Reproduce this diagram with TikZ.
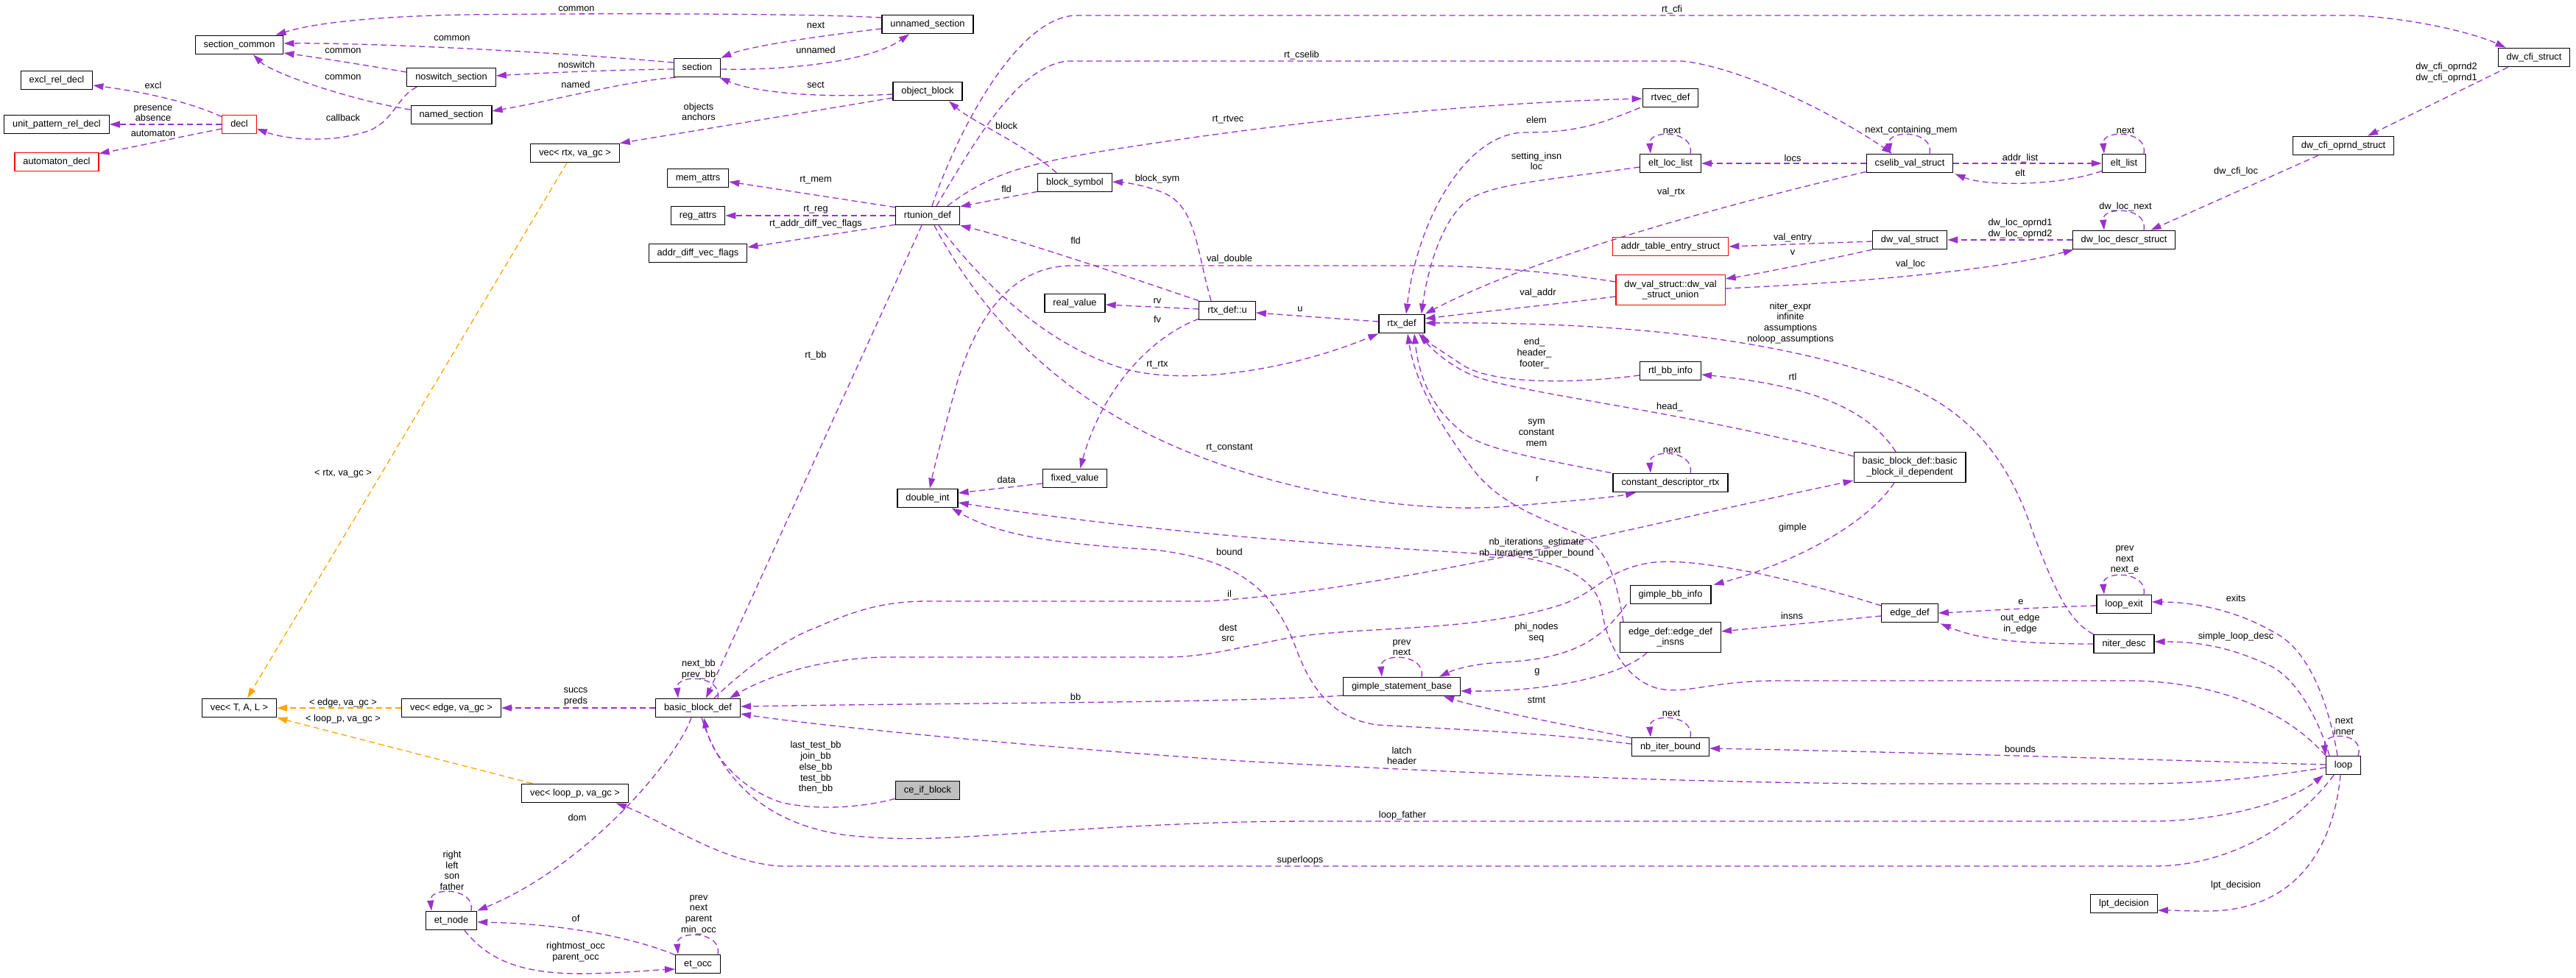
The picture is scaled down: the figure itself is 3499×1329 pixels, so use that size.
\documentclass[tikz,border=0pt]{standalone}
\usepackage{fontspec}
\setmainfont{Liberation Sans}
\usetikzlibrary{arrows.meta,calc}
\definecolor{edgep}{HTML}{9A32CD}
\definecolor{edgeo}{HTML}{FFA500}
\definecolor{nodegray}{HTML}{BFBFBF}
\newcommand\lbl{\fontsize{12.8}{14.7}\selectfont}
\tikzset{
 box/.style={draw=black, line width=1.2pt, fill=white, inner xsep=11.5pt, inner ysep=0pt, minimum height=25.5pt, text height=9.4pt, text depth=2.9pt, font=\lbl},
 boxtwo/.style={draw=black, line width=1.2pt, fill=white, inner xsep=11.5pt, inner ysep=0pt, minimum height=41pt, align=center, font=\lbl},
 redbox/.style={box, draw=red},
 redboxtwo/.style={boxtwo, draw=red},
 pe/.style={draw=edgep, line width=1.3pt, dash pattern=on 8pt off 5pt, -{Triangle[length=14pt,width=9pt]}},
 oe/.style={pe, draw=edgeo},
 lab/.style={inner sep=0pt, align=center, font=\lbl},
}
\newcommand\selfloop[1]{\draw[pe] ($(#1.north)+(27,0)$) .. controls ($(#1.north)+(33,-32)$) and ($(#1.north)+(-30,-33)$) .. ($(#1.north)+(-27,0)$);}
\begin{document}
\begin{tikzpicture}[x=1pt,y=-1pt]
\fill[white] (0,0) rectangle (3499,1329);
\useasboundingbox (0,0) rectangle (3499,1329);
% nodes
\node[box] (sc) at (325,61) {section\_common};
\node[box] (us) at (1260,33) {unnamed\_section};
\node[box] (erd) at (77,109) {excl\_rel\_decl};
\node[box] (uprd) at (77,169) {unit\_pattern\_rel\_decl};
\node[redbox] (ad) at (77,220) {automaton\_decl};
\node[redbox] (decl) at (325,169) {decl};
\node[box] (nss) at (613,105) {noswitch\_section};
\node[box] (ns) at (613,156) {named\_section};
\node[box] (sec) at (947,92) {section};
\node[box] (ob) at (1260,124) {object\_block};
\node[box] (vrtx) at (781,208) {vec< rtx, va\_gc >};
\node[box] (ma) at (948,242) {mem\_attrs};
\node[box] (ra) at (948,293) {reg\_attrs};
\node[box] (advf) at (948,344) {addr\_diff\_vec\_flags};
\node[box] (rtu) at (1260,293) {rtunion\_def};
\node[box] (bs) at (1460,248) {block\_symbol};
\node[box] (rv) at (1460,412) {real\_value};
\node[box] (u) at (1667,422) {rtx\_def::u};
\node[box] (rtvec) at (2269,133) {rtvec\_def};
\node[box] (ell) at (2269,222) {elt\_loc\_list};
\node[box] (cvs) at (2594,222) {cselib\_val\_struct};
\node[box] (el) at (2885,222) {elt\_list};
\node[redbox] (ates) at (2269,335) {addr\_table\_entry\_struct};
\node[redboxtwo] (dvsu) at (2269,394) {dw\_val\_struct::dw\_val\\\_struct\_union};
\node[box] (rtx) at (1904,440) {rtx\_def};
\node[box] (dvs) at (2594,326) {dw\_val\_struct};
\node[box] (dlds) at (2885,326) {dw\_loc\_descr\_struct};
\node[box] (dcos) at (3183,198) {dw\_cfi\_oprnd\_struct};
\node[box] (dcs) at (3442,78) {dw\_cfi\_struct};
\node[box] (di) at (1260,677) {double\_int};
\node[box] (fv) at (1460,650) {fixed\_value};
\node[box] (rbi) at (2269,504) {rtl\_bb\_info};
\node[box] (cdr) at (2269,656) {constant\_descriptor\_rtx};
\node[boxtwo] (bbil) at (2594,635) {basic\_block\_def::basic\\\_block\_il\_dependent};
\node[box] (gbi) at (2269,808) {gimple\_bb\_info};
\node[boxtwo] (edi) at (2269,866) {edge\_def::edge\_def\\\_insns};
\node[box] (ed) at (2594,833) {edge\_def};
\node[box] (le) at (2885,821) {loop\_exit};
\node[box] (nd) at (2885,875) {niter\_desc};
\node[box] (vtal) at (325,962) {vec< T, A, L >};
\node[box] (vedge) at (613,962) {vec< edge, va\_gc >};
\node[box] (vloop) at (781,1078) {vec< loop\_p, va\_gc >};
\node[box] (etn) at (613,1251) {et\_node};
\node[box] (bbd) at (948,962) {basic\_block\_def};
\node[box, fill=nodegray] (ceif) at (1260,1074) {ce\_if\_block};
\node[box] (eto) at (948,1310) {et\_occ};
\node[box] (gsb) at (1904,933) {gimple\_statement\_base};
\node[box] (nib) at (2269,1015) {nb\_iter\_bound};
\node[box] (lp) at (3183,1040) {loop};
\node[box] (lpt) at (2885,1228) {lpt\_decision};
% edges
\draw[pe] ($(us.west)+(0,-9)$) .. controls (1100,18) and (800,18) .. (631,20) .. controls (520,22) and (430,30) .. ($(sc.north east)+(-11,0)$);
\draw[pe] ($(sec.west)+(0,-7)$) .. controls (750,70) and (500,58) .. ($(sc.east)+(0,-2)$);
\draw[pe] ($(nss.west)+(0,-7)$) .. controls (480,86) and (430,78) .. ($(sc.east)+(0,11)$);
\draw[pe] ($(ns.west)+(0,-7)$) .. controls (480,137) and (370,100) .. ($(sc.south)+(19,0)$);
\draw[pe] ($(sec.west)+(0,2)$) .. controls (820,95) and (720,100) .. ($(nss.east)+(0,-2)$);
\draw[pe] ($(sec.south west)+(3,0)$) .. controls (850,110) and (760,135) .. ($(ns.east)+(0,-5)$);
\draw[pe] ($(nss.south west)+(14,0)$) .. controls (540,130) and (535,165) .. (500,178) .. controls (450,195) and (390,190) .. ($(decl.east)+(0,6)$);
\draw[pe] ($(decl.north west)+(0,3)$) .. controls (250,135) and (180,123) .. ($(erd.east)+(0,7)$);
\draw[pe] (decl.west) -- (uprd.east);
\draw[pe] ($(decl.west)+(0,6)$) .. controls (250,185) and (180,200) .. ($(ad.north east)+(0,2)$);
\draw[pe] ($(us.west)+(0,6)$) .. controls (1120,48) and (1020,62) .. (sec.north east);
\draw[pe] ($(sec.east)+(0,2)$) .. controls (1060,96) and (1180,85) .. ($(us.south)+(-25,0)$);
\draw[pe] ($(ob.west)+(0,4)$) .. controls (1130,133) and (1030,128) .. ($(sec.south east)+(-2,0)$);
\draw[pe] ($(ob.west)+(0,9)$) -- (vrtx.north east);
\draw[oe] ($(vrtx.south)+(-11,0)$) -- ($(vtal.north)+(11,0)$);
\draw[pe] ($(bs.north)+(-25,0)$) .. controls (1390,195) and (1320,165) .. ($(ob.south)+(29,0)$);
\draw[pe] ($(rtu.north west)+(0,2)$) -- ($(ma.east)+(0,5)$);
\draw[pe] (rtu.west) -- (ra.east);
\draw[pe] ($(rtu.south west)+(0,-1)$) -- ($(advf.east)+(0,-8)$);
\draw[pe] ($(bs.south west)+(0,-1)$) -- ($(rtu.north east)+(0,1)$);
\draw[pe] (u.north west) .. controls (1500,365) and (1380,325) .. (rtu.south east);
\draw[pe] ($(u.north)+(-22,0)$) .. controls (1625,340) and (1625,280) .. (1580,262) .. controls (1560,253) and (1530,248) .. ($(bs.east)+(0,-1)$);
\draw[pe] ($(u.west)+(0,-2)$) -- ($(rv.east)+(0,2)$);
\draw[pe] ($(u.south west)+(0,-2)$) .. controls (1570,455) and (1500,520) .. ($(fv.north)+(7,0)$);
\draw[pe] ($(rtx.west)+(0,-3)$) -- ($(u.east)+(0,3)$);
\draw[pe] ($(rtu.south)+(15,0)$) .. controls (1330,380) and (1420,470) .. (1530,502) .. controls (1620,525) and (1760,500) .. (rtx.south west);
\draw[pe] ($(rtu.south)+(-8,0)$) -- ($(bbd.north)+(11,0)$);
\draw[pe] ($(rtu.north east)+(-17,0)$) .. controls (1340,240) and (1380,225) .. (1500,205) .. controls (1750,165) and (2000,140) .. ($(rtvec.west)+(0,1)$);
\draw[pe] ($(rtu.north)+(12,0)$) .. controls (1320,200) and (1380,90) .. (1450,83) -- (2285,83) .. controls (2370,92) and (2500,160) .. ($(cvs.north)+(-24,0)$);
\draw[pe] ($(rtu.north)+(6,0)$) .. controls (1300,180) and (1380,25) .. (1460,21) -- (3197,21) .. controls (3280,25) and (3360,45) .. ($(dcs.north west)+(11,0)$);
\draw[pe] ($(rtvec.south west)+(-3,0)$) .. controls (2170,170) and (2140,180) .. (2070,180) .. controls (1990,182) and (1925,300) .. ($(rtx.north)+(6,0)$);
\draw[pe] ($(ell.west)+(0,5)$) .. controls (2100,245) and (2020,250) .. (1990,275) .. controls (1960,300) and (1940,360) .. ($(rtx.north east)+(-5,0)$);
\draw[pe] ($(cvs.south west)+(0,-2)$) .. controls (2400,265) and (2100,340) .. (rtx.north east);
\selfloop{ell}
\draw[pe] (cvs.west) -- (ell.east);
\selfloop{cvs}
\draw[pe] (cvs.east) -- (el.west);
\draw[pe] ($(el.south west)+(0,-3)$) .. controls (2800,252) and (2700,254) .. ($(cvs.south east)+(2,1)$);
\selfloop{el}
\draw[pe] ($(dvs.west)+(0,2)$) -- (ates.east);
\draw[pe] (dvs.south west) .. controls (2470,355) and (2400,370) .. ($(dvsu.north east)+(0,6)$);
\draw[pe] ($(dvsu.east)+(0,-2)$) .. controls (2500,385) and (2700,370) .. ($(dlds.south west)+(2,0)$);
\draw[pe] (dlds.west) -- (dvs.east);
\selfloop{dlds}
\draw[pe] ($(dcos.south west)+(35,0)$) -- ($(dlds.north east)+(-34,0)$);
\draw[pe] ($(dcs.south west)+(14,0)$) -- ($(dcos.north)+(33,0)$);
\draw[pe] ($(dvsu.west)+(0,-11)$) .. controls (2100,368) and (2000,361) .. (1930,361) -- (1453,361) .. controls (1380,363) and (1330,420) .. (1300,520) .. controls (1282,585) and (1270,630) .. ($(di.north)+(3,0)$);
\draw[pe] ($(dvsu.west)+(0,9)$) .. controls (2100,415) and (2000,425) .. ($(rtx.east)+(0,-7)$);
\draw[pe] (nd.north west) .. controls (2810,845) and (2790,800) .. (2760,720) .. controls (2720,600) and (2650,540) .. (2550,510) .. controls (2400,460) and (2200,437) .. ($(rtx.east)+(0,-1)$);
\draw[pe] ($(rbi.west)+(0,6)$) .. controls (2150,520) and (2030,525) .. (1985,495) .. controls (1955,475) and (1935,462) .. ($(rtx.south)+(23,0)$);
\draw[pe] ($(bbil.west)+(0,-15)$) .. controls (2300,560) and (2060,535) .. (2000,510) .. controls (1965,495) and (1940,470) .. ($(rtx.south east)+(-4,0)$);
\draw[pe] ($(cdr.north west)+(-2,0)$) .. controls (2100,625) and (2020,612) .. (1990,590) .. controls (1950,560) and (1928,520) .. ($(rtx.south)+(17,0)$);
\draw[pe] ($(edi.north west)+(5,0)$) .. controls (2197,795) and (2185,745) .. (2148,727) .. controls (2080,700) and (2030,680) .. (1995,630) .. controls (1955,575) and (1922,520) .. ($(rtx.south)+(8,0)$);
\draw[pe] ($(rtu.south)+(9,0)$) .. controls (1330,420) and (1420,520) .. (1560,590) .. controls (1700,660) and (1900,700) .. (2050,688) .. controls (2130,681) and (2190,676) .. ($(cdr.south)+(-47,0)$);
\selfloop{cdr}
\draw[pe] ($(fv.west)+(0,7)$) -- ($(di.east)+(0,-7)$);
\draw[pe] ($(bbil.north)+(-19,0)$) .. controls (2540,560) and (2470,525) .. ($(rbi.east)+(0,5)$);
\draw[pe] ($(bbil.south)+(-21,0)$) .. controls (2530,720) and (2420,770) .. ($(gbi.north east)+(3,0)$);
\draw[pe] ($(bbd.north)+(22,0)$) .. controls (1000,920) and (1060,870) .. (1108,853) .. controls (1160,830) and (1200,817) .. (1260,817) -- (1640,817) .. controls (1900,800) and (2200,720) .. ($(bbil.south west)+(0,-3)$);
\draw[pe] ($(ed.west)+(0,-10)$) .. controls (2450,790) and (2300,755) .. (2240,765) .. controls (2180,775) and (2170,805) .. (2120,822) .. controls (2000,860) and (1850,850) .. (1750,867) .. controls (1680,880) and (1640,893) .. (1580,893) -- (1200,893) .. controls (1120,895) and (1050,915) .. ($(bbd.north east)+(-15,0)$);
\draw[pe] ($(gsb.west)+(0,12)$) .. controls (1700,955) and (1300,955) .. ($(bbd.east)+(0,-2)$);
\draw[pe] ($(lp.west)+(0,3)$) .. controls (3050,1060) and (2980,1065) .. (2900,1065) -- (2550,1065) .. controls (2200,1062) and (1900,1045) .. (1700,1035) .. controls (1400,1015) and (1100,985) .. ($(bbd.east)+(0,8)$);
\draw[pe] ($(ceif.south west)+(0,-2)$) .. controls (1160,1100) and (1100,1100) .. (1060,1090) .. controls (1000,1070) and (965,1020) .. ($(bbd.south)+(8,0)$);
\draw[pe] ($(bbd.south)+(5,0)$) .. controls (980,1060) and (1040,1120) .. (1150,1135) .. controls (1250,1145) and (1300,1137) .. (1500,1125) .. controls (1650,1117) and (1700,1116) .. (1800,1116) -- (2925,1116) .. controls (3020,1115) and (3110,1090) .. ($(lp.south west)+(-3,0)$);
\draw[pe] ($(lp.south)+(-13,0)$) .. controls (3120,1120) and (3030,1177) .. (2925,1177) -- (1060,1177) .. controls (980,1172) and (900,1115) .. ($(vloop.south east)+(-17,0)$);
\draw[pe] ($(lp.south)+(-4,0)$) .. controls (3170,1150) and (3120,1237) .. (3000,1238) .. controls (2970,1238) and (2950,1237) .. ($(lpt.east)+(0,9)$);
\draw[pe] ($(lp.west)+(0,-1)$) .. controls (2900,1032) and (2600,1022) .. ($(nib.east)+(0,2)$);
\draw[pe] ($(lp.north)+(20,0)$) .. controls ($(lp.north)+(30,-32)$) and ($(lp.north)+(-28,-33)$) .. ($(lp.north)+(-24,0)$);
\draw[pe] ($(lp.north)+(-19,0)$) .. controls (3150,980) and (3120,920) .. (3080,903) .. controls (3040,885) and (3000,872) .. ($(nd.east)+(0,-3)$);
\draw[pe] ($(lp.north)+(-8,0)$) .. controls (3160,940) and (3130,880) .. (3090,860) .. controls (3040,830) and (2980,818) .. ($(le.east)+(0,-3)$);
\draw[pe] (lp.north west) .. controls (3100,960) and (3000,925) .. (2889,925) -- (2417,925) .. controls (2320,925) and (2290,945) .. (2250,935) .. controls (2200,920) and (2180,860) .. (2176,830) .. controls (2170,790) and (2130,765) .. (2050,755) .. controls (1900,745) and (1600,730) .. ($(di.east)+(0,6)$);
\draw[pe] ($(nib.west)+(0,-4)$) .. controls (2100,995) and (1950,990) .. (1870,985) .. controls (1800,975) and (1775,920) .. (1760,880) .. controls (1730,800) and (1680,760) .. (1567,747) .. controls (1450,740) and (1360,730) .. ($(di.south east)+(-9,0)$);
\draw[pe] ($(nib.north west)+(0,1)$) .. controls (2100,980) and (2010,962) .. ($(gsb.south)+(57,0)$);
\draw[pe] ($(edi.south)+(-32,0)$) .. controls (2200,920) and (2100,940) .. ($(gsb.east)+(0,6)$);
\draw[pe] ($(gbi.south west)+(-4,0)$) .. controls (2180,860) and (2150,895) .. (2040,900) .. controls (2000,902) and (1975,910) .. ($(gsb.north)+(51,0)$);
\selfloop{gsb}
\selfloop{nib}
\draw[pe] ($(ed.west)+(0,4)$) -- ($(edi.east)+(0,-8)$);
\draw[pe] ($(le.west)+(0,2)$) .. controls (2750,826) and (2700,830) .. (ed.east);
\draw[pe] (nd.west) .. controls (2750,875) and (2690,870) .. ($(ed.south east)+(3,1)$);
\selfloop{le}
\selfloop{bbd}
\draw[pe] (bbd.west) -- (vedge.east);
\draw[oe] (vedge.west) -- (vtal.east);
\draw[oe] ($(vloop.north west)+(15,0)$) -- (vtal.south east);
\draw[pe] ($(bbd.south)+(-9,0)$) .. controls (920,1030) and (800,1175) .. (etn.north east);
\selfloop{etn}
\draw[pe] ($(eto.north west)+(0,1)$) .. controls (850,1270) and (750,1255) .. ($(etn.east)+(0,2)$);
\draw[pe] ($(etn.south)+(18,0)$) .. controls (660,1300) and (700,1325) .. (800,1323) .. controls (850,1322) and (890,1318) .. ($(eto.west)+(0,7)$);
\selfloop{eto}
% labels
\node[lab] (l1) at (783,12) {common};
\node[lab] (l2) at (614,52) {common};
\node[lab] (l3) at (466,69) {common};
\node[lab] (l4) at (466,105) {common};
\node[lab] (l5) at (783,88) {noswitch};
\node[lab] (l6) at (782,115) {named};
\node[lab] (l7) at (466,160) {callback};
\node[lab] (l8) at (208,116) {excl};
\node[lab] (l9) at (208,154) {presence\\absence};
\node[lab] (l10) at (208,181) {automaton};
\node[lab] (l11) at (1108,34) {next};
\node[lab] (l12) at (1108,68) {unnamed};
\node[lab] (l13) at (1108,115) {sect};
\node[lab] (l14) at (949,152) {objects\\anchors};
\node[lab] (l15) at (466,644) {< rtx, va\_gc >};
\node[lab] (l16) at (1367,171) {block};
\node[lab] (l17) at (1108,245) {rt\_mem};
\node[lab] (l18) at (1108,285) {rt\_reg};
\node[lab] (l19) at (1108,304) {rt\_addr\_diff\_vec\_flags};
\node[lab] (l20) at (1367,257) {fld};
\node[lab] (l21) at (1461,327) {fld};
\node[lab] (l22) at (1572,243) {block\_sym};
\node[lab] (l23) at (1572,409) {rv};
\node[lab] (l24) at (1572,434) {fv};
\node[lab] (l25) at (1766,420) {u};
\node[lab] (l26) at (1572,496) {rt\_rtx};
\node[lab] (l27) at (1108,483) {rt\_bb};
\node[lab] (l28) at (1668,163) {rt\_rtvec};
\node[lab] (l29) at (1768,75) {rt\_cselib};
\node[lab] (l30) at (2271,13) {rt\_cfi};
\node[lab] (l31) at (2087,163) {elem};
\node[lab] (l32) at (2087,219) {setting\_insn\\loc};
\node[lab] (l33) at (2270,261) {val\_rtx};
\node[lab] (l34) at (2271,177) {next};
\node[lab] (l35) at (2435,215) {locs};
\node[lab] (l36) at (2596,177) {next\_containing\_mem};
\node[lab] (l37) at (2744,215) {addr\_list};
\node[lab] (l38) at (2744,235) {elt};
\node[lab] (l39) at (2887,177) {next};
\node[lab] (l40) at (2435,323) {val\_entry};
\node[lab] (l41) at (2435,343) {v};
\node[lab] (l42) at (2595,359) {val\_loc};
\node[lab] (l43) at (2744,311) {dw\_loc\_oprnd1\\dw\_loc\_oprnd2};
\node[lab] (l44) at (2887,281) {dw\_loc\_next};
\node[lab] (l45) at (3037,233) {dw\_cfi\_loc};
\node[lab] (l46) at (3323,99) {dw\_cfi\_oprnd2\\dw\_cfi\_oprnd1};
\node[lab] (l47) at (1670,352) {val\_double};
\node[lab] (l48) at (2089,398) {val\_addr};
\node[lab] (l49) at (2432,439) {niter\_expr\\infinite\\assumptions\\noloop\_assumptions};
\node[lab] (l50) at (2084,480) {end\_\\header\_\\footer\_};
\node[lab] (l51) at (2268,553) {head\_};
\node[lab] (l52) at (2087,588) {sym\\constant\\mem};
\node[lab] (l53) at (2088,651) {r};
\node[lab] (l54) at (1670,609) {rt\_constant};
\node[lab] (l55) at (1367,652) {data};
\node[lab] (l56) at (2435,512) {rtl};
\node[lab] (l57) at (2435,717) {gimple};
\node[lab] (l58) at (1670,807) {il};
\node[lab] (l59) at (1668,860) {dest\\src};
\node[lab] (l60) at (1461,947) {bb};
\node[lab] (l61) at (1904,1027) {latch\\header};
\node[lab] (l62) at (1108,1043) {last\_test\_bb\\join\_bb\\else\_bb\\test\_bb\\then\_bb};
\node[lab] (l63) at (1905,1108) {loop\_father};
\node[lab] (l64) at (1766,1169) {superloops};
\node[lab] (l65) at (3037,1203) {lpt\_decision};
\node[lab] (l66) at (2744,1018) {bounds};
\node[lab] (l67) at (3184,987) {next\\inner};
\node[lab] (l68) at (3037,865) {simple\_loop\_desc};
\node[lab] (l69) at (3037,813) {exits};
\node[lab] (l70) at (2087,745) {nb\_iterations\_estimate\\nb\_iterations\_upper\_bound};
\node[lab] (l71) at (1670,750) {bound};
\node[lab] (l72) at (2087,951) {stmt};
\node[lab] (l73) at (2088,913) {g};
\node[lab] (l74) at (2087,860) {phi\_nodes\\seq};
\node[lab] (l75) at (1904,880) {prev\\next};
\node[lab] (l76) at (2270,969) {next};
\node[lab] (l77) at (2271,611) {next};
\node[lab] (l78) at (2434,837) {insns};
\node[lab] (l79) at (2745,818) {e};
\node[lab] (l80) at (2744,848) {out\_edge\\in\_edge};
\node[lab] (l81) at (2886,761) {prev\\next\\next\_e};
\node[lab] (l82) at (949,910) {next\_bb\\prev\_bb};
\node[lab] (l83) at (782,947) {succs\\preds};
\node[lab] (l84) at (466,955) {< edge, va\_gc >};
\node[lab] (l85) at (466,977) {< loop\_p, va\_gc >};
\node[lab] (l86) at (784,1111) {dom};
\node[lab] (l87) at (614,1183) {right\\left\\son\\father};
\node[lab] (l88) at (782,1248) {of};
\node[lab] (l89) at (782,1294) {rightmost\_occ\\parent\_occ};
\node[lab] (l90) at (949,1243) {prev\\next\\parent\\min\_occ};
\end{tikzpicture}
\end{document}
